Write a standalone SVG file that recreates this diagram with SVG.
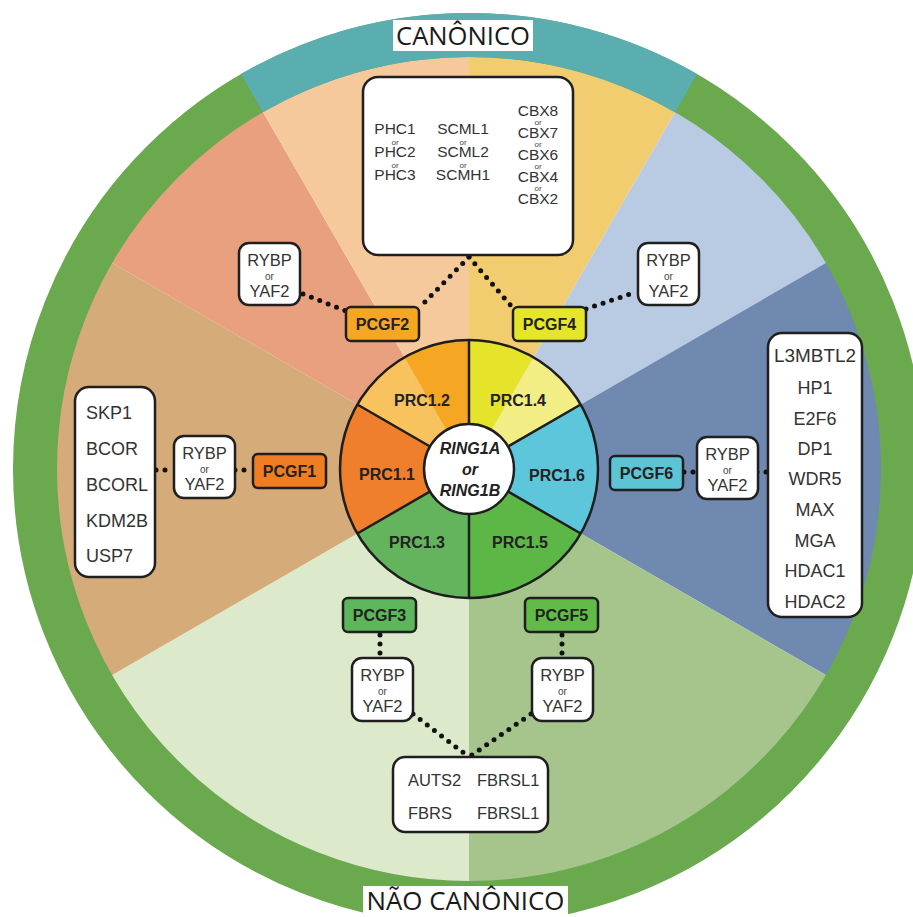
<svg xmlns="http://www.w3.org/2000/svg" width="913" height="917" viewBox="0 0 913 917">
<style>
.sec{stroke:none}
.div{stroke:#1e1e1e;stroke-width:2.5;fill:none}
.box{fill:#fff;stroke:#1f1f1f;stroke-width:2.5}
.pc{stroke:#1f1f1f;stroke-width:2.5}
.t{font-family:"Liberation Sans",Arial,sans-serif;font-size:16.5px;fill:#333}
.ts{font-family:"Liberation Sans",Arial,sans-serif;font-size:15.5px;fill:#333;text-anchor:middle}
.tc{text-anchor:middle}
.or{font-family:"Liberation Sans",Arial,sans-serif;font-size:10px;fill:#444;text-anchor:middle}
.or2{font-family:"Liberation Sans",Arial,sans-serif;font-size:8px;fill:#444;text-anchor:middle}
.b{font-family:"Liberation Sans",Arial,sans-serif;font-size:16px;font-weight:bold;fill:#222;text-anchor:middle}
.big{font-family:"Liberation Sans",Arial,sans-serif;font-size:18px;fill:#333}
.lab{font-family:"Open Sans","Liberation Sans",sans-serif;font-size:25px;fill:#1a1a1a;text-anchor:middle}
.dot{stroke:#111;stroke-width:5;stroke-linecap:round;stroke-dasharray:0 9;fill:none}
</style>

<g id="background">
<path class="sec" fill="#f2cd6f" d="M469 469 L469 29 A440 440 0 0 1 689 87.95 Z"/>
<path class="sec" fill="#b8cbe3" d="M469 469 L689 87.95 A440 440 0 0 1 850.05 249 Z"/>
<path class="sec" fill="#7089b0" d="M469 469 L850.05 249 A440 440 0 0 1 850.05 689 Z"/>
<path class="sec" fill="#a5c58d" d="M469 469 L850.05 689 A440 440 0 0 1 469 909 Z"/>
<path class="sec" fill="#dde9cb" d="M469 469 L469 909 A440 440 0 0 1 87.95 689 Z"/>
<path class="sec" fill="#d4ab79" d="M469 469 L87.95 689 A440 440 0 0 1 87.95 249 Z"/>
<path class="sec" fill="#e9a07f" d="M469 469 L87.95 249 A440 440 0 0 1 249 87.95 Z"/>
<path class="sec" fill="#f6c99c" d="M469 469 L249 87.95 A440 440 0 0 1 469 29 Z"/>
<circle cx="469" cy="469" r="434" fill="none" stroke="#6ba94f" stroke-width="44"/>
<path d="M252 93.1 A434 434 0 0 1 686 93.1" fill="none" stroke="#5aaeb0" stroke-width="44"/>
</g>

<g id="label-canonico">
<rect x="393" y="20" width="140" height="31" fill="#fff"/>
<text class="lab" x="463" y="45" textLength="134" lengthAdjust="spacingAndGlyphs">CANÔNICO</text>
</g>
<g id="label-nao-canonico">
<rect x="363" y="886" width="205" height="31" fill="#fff"/>
<text class="lab" x="465.5" y="910" textLength="198" lengthAdjust="spacingAndGlyphs">NÃO CANÔNICO</text>
</g>

<g id="connectors">
<line class="dot" x1="469" y1="257" x2="420" y2="307"/>
<line class="dot" x1="469" y1="257" x2="512" y2="307"/>
<line class="dot" x1="303" y1="294" x2="346" y2="311"/>
<line class="dot" x1="586" y1="309" x2="636" y2="292"/>
<line class="dot" x1="156" y1="470" x2="174" y2="470"/>
<line class="dot" x1="235" y1="470" x2="253" y2="470"/>
<line class="dot" x1="684" y1="472" x2="697" y2="472"/>
<line class="dot" x1="757" y1="472" x2="768" y2="472"/>
<line class="dot" x1="380" y1="635" x2="380" y2="656"/>
<line class="dot" x1="562" y1="635" x2="562" y2="656"/>
<line class="dot" x1="413" y1="714" x2="469" y2="757"/>
<line class="dot" x1="531" y1="714" x2="469" y2="757"/>
</g>

<g id="prc-wheel">
<path fill="#e6e32b" d="M469 469 L469 340 A129 129 0 0 1 533.5 357.3 Z"/>
<path fill="#f2ee85" d="M469 469 L533.5 357.3 A129 129 0 0 1 580.7 404.5 Z"/>
<path fill="#5ec6da" d="M469 469 L580.7 404.5 A129 129 0 0 1 580.7 533.5 Z"/>
<path fill="#5cb746" d="M469 469 L580.7 533.5 A129 129 0 0 1 469 598 Z"/>
<path fill="#64b45e" d="M469 469 L469 598 A129 129 0 0 1 357.3 533.5 Z"/>
<path fill="#ef7f2c" d="M469 469 L357.3 533.5 A129 129 0 0 1 357.3 404.5 Z"/>
<path fill="#f8c35e" d="M469 469 L357.3 404.5 A129 129 0 0 1 404.5 357.3 Z"/>
<path fill="#f5a623" d="M469 469 L404.5 357.3 A129 129 0 0 1 469 340 Z"/>
<path class="div" d="M469 469 L469 340 M469 469 L580.7 404.5 M469 469 L580.7 533.5 M469 469 L469 598 M469 469 L357.3 533.5 M469 469 L357.3 404.5"/>
<circle cx="469" cy="469" r="129" class="div"/>
</g>
<g id="prc1-2"><text class="b" x="422" y="406" font-size="16.5">PRC1.2</text></g>
<g id="prc1-4"><text class="b" x="518" y="406" font-size="16.5">PRC1.4</text></g>
<g id="prc1-1"><text class="b" x="387" y="480" font-size="16.5">PRC1.1</text></g>
<g id="prc1-6"><text class="b" x="557" y="481" font-size="16.5">PRC1.6</text></g>
<g id="prc1-3"><text class="b" x="417" y="548" font-size="16.5">PRC1.3</text></g>
<g id="prc1-5"><text class="b" x="520" y="548" font-size="16.5">PRC1.5</text></g>

<g id="ring1">
<circle cx="469" cy="469" r="45" fill="#fff" stroke="#1e1e1e" stroke-width="2.5"/>
<text class="b" x="470" y="454" font-size="16.5" font-style="italic">RING1A</text>
<text class="b" x="470" y="475" font-size="16.5" font-style="italic">or</text>
<text class="b" x="470" y="496" font-size="16.5" font-style="italic">RING1B</text>
</g>

<g id="top-box">
<rect class="box" x="363" y="77" width="210" height="178" rx="15"/>
<text class="ts" x="395" y="134">PHC1</text>
<text class="or2" x="395" y="144.5">or</text>
<text class="ts" x="395" y="157">PHC2</text>
<text class="or2" x="395" y="167.5">or</text>
<text class="ts" x="395" y="180">PHC3</text>
<text class="ts" x="463" y="134">SCML1</text>
<text class="or2" x="463" y="144.5">or</text>
<text class="ts" x="463" y="157">SCML2</text>
<text class="or2" x="463" y="167.5">or</text>
<text class="ts" x="463" y="180">SCMH1</text>
<text class="ts" x="538" y="116">CBX8</text>
<text class="or2" x="538" y="125">or</text>
<text class="ts" x="538" y="138">CBX7</text>
<text class="or2" x="538" y="147">or</text>
<text class="ts" x="538" y="160">CBX6</text>
<text class="or2" x="538" y="169">or</text>
<text class="ts" x="538" y="182">CBX4</text>
<text class="or2" x="538" y="191">or</text>
<text class="ts" x="538" y="204">CBX2</text>
</g>

<g id="pcgf2"><rect class="pc" x="346" y="307" width="73" height="34" rx="5" fill="#f5a623"/><text class="b" x="382.5" y="329.5">PCGF2</text></g>
<g id="pcgf4"><rect class="pc" x="513" y="307" width="73" height="34" rx="5" fill="#e5e52a"/><text class="b" x="549.5" y="329.5">PCGF4</text></g>
<g id="pcgf1"><rect class="pc" x="253" y="454" width="73" height="34" rx="5" fill="#ef7d24"/><text class="b" x="289.5" y="476.5">PCGF1</text></g>
<g id="pcgf6"><rect class="pc" x="610" y="456" width="73" height="34" rx="5" fill="#5cc4d4"/><text class="b" x="646.5" y="478.5">PCGF6</text></g>
<g id="pcgf3"><rect class="pc" x="343" y="598" width="73" height="34" rx="5" fill="#5db65a"/><text class="b" x="379.5" y="620.5">PCGF3</text></g>
<g id="pcgf5"><rect class="pc" x="525" y="598" width="73" height="34" rx="5" fill="#62bb48"/><text class="b" x="561.5" y="620.5">PCGF5</text></g>

<g id="rybp-tl"><rect class="box" x="239" y="243" width="61" height="62" rx="10"/><text class="t tc" x="269.5" y="266">RYBP</text><text class="or" x="269.5" y="280">or</text><text class="t tc" x="269.5" y="297">YAF2</text></g>
<g id="rybp-tr"><rect class="box" x="638" y="243" width="61" height="62" rx="10"/><text class="t tc" x="668.5" y="266">RYBP</text><text class="or" x="668.5" y="280">or</text><text class="t tc" x="668.5" y="297">YAF2</text></g>
<g id="rybp-l"><rect class="box" x="174" y="436" width="61" height="62" rx="10"/><text class="t tc" x="204.5" y="459">RYBP</text><text class="or" x="204.5" y="473">or</text><text class="t tc" x="204.5" y="490">YAF2</text></g>
<g id="rybp-r"><rect class="box" x="697" y="437" width="61" height="62" rx="10"/><text class="t tc" x="727.5" y="460">RYBP</text><text class="or" x="727.5" y="474">or</text><text class="t tc" x="727.5" y="491">YAF2</text></g>
<g id="rybp-bl"><rect class="box" x="352" y="658" width="61" height="63" rx="10"/><text class="t tc" x="382.5" y="681">RYBP</text><text class="or" x="382.5" y="695">or</text><text class="t tc" x="382.5" y="712">YAF2</text></g>
<g id="rybp-br"><rect class="box" x="532" y="658" width="61" height="63" rx="10"/><text class="t tc" x="562.5" y="681">RYBP</text><text class="or" x="562.5" y="695">or</text><text class="t tc" x="562.5" y="712">YAF2</text></g>

<g id="left-box">
<rect class="box" x="75" y="387" width="80" height="190" rx="14"/>
<text class="big" x="86" y="418.5">SKP1</text>
<text class="big" x="86" y="454.5">BCOR</text>
<text class="big" x="86" y="490.5">BCORL</text>
<text class="big" x="86" y="527">KDM2B</text>
<text class="big" x="86" y="562">USP7</text>
</g>

<g id="right-box">
<rect class="box" x="768" y="333" width="94" height="284" rx="14"/>
<text class="big tc" x="815" y="361.5" textLength="82" lengthAdjust="spacingAndGlyphs">L3MBTL2</text>
<text class="big tc" x="815" y="393.5">HP1</text>
<text class="big tc" x="815" y="424.5">E2F6</text>
<text class="big tc" x="815" y="454.5">DP1</text>
<text class="big tc" x="815" y="484.5">WDR5</text>
<text class="big tc" x="815" y="515.5">MAX</text>
<text class="big tc" x="815" y="546.5">MGA</text>
<text class="big tc" x="815" y="576.5">HDAC1</text>
<text class="big tc" x="815" y="607.5">HDAC2</text>
</g>

<g id="bottom-box">
<rect class="box" x="393" y="757" width="155" height="75" rx="12"/>
<text class="t" x="408" y="786">AUTS2</text>
<text class="t" x="477" y="786">FBRSL1</text>
<text class="t" x="408" y="819">FBRS</text>
<text class="t" x="477" y="819">FBRSL1</text>
</g>
</svg>
